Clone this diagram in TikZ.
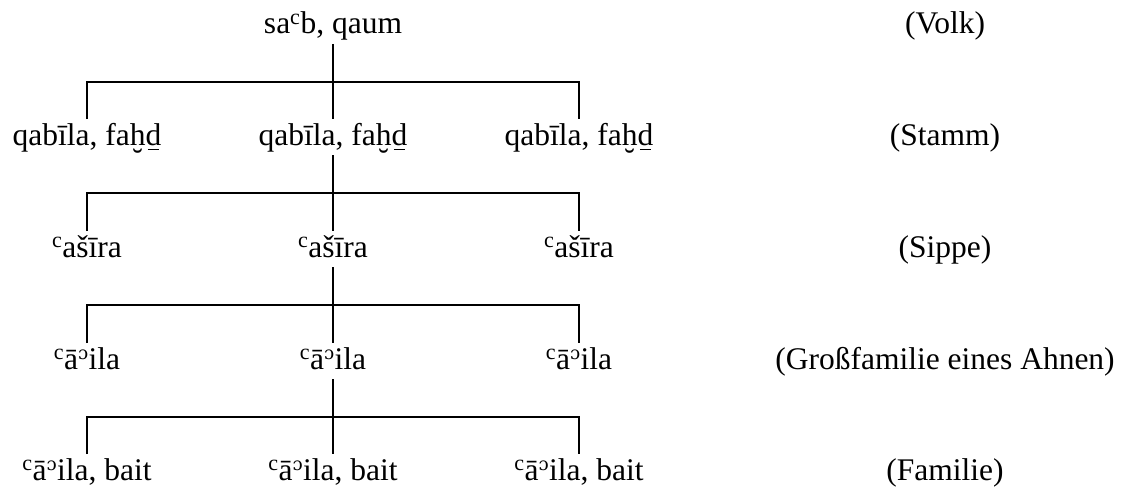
\documentclass[tikz,border=0pt]{standalone}
\usepackage{fontspec}
\setmainfont{Liberation Serif}
\newfontfamily\ipafont[Scale=0.82]{DejaVu Serif}
\newcommand\ay{\textsuperscript{c}}
\newcommand\hz{\textsuperscript{\ipafont ɔ}}
\newcommand\hbr{\leavevmode\ooalign{h\cr\hidewidth\raisebox{-0.8em}{˘}\hidewidth\cr}}
\newcommand\dmb{\leavevmode\ooalign{d\cr\hidewidth\rule[-0.17em]{0.36em}{0.045em}\hidewidth\cr}}
\begin{document}
\begin{tikzpicture}[x=1pt,y=-1pt,
  lbl/.style={anchor=base,inner sep=0pt,font=\fontsize{31.5}{37}\selectfont},
  conn/.style={line width=1.6pt,black}]
\useasboundingbox (0,0) rectangle (1124,495);
% rows
\node[lbl] (r1) at (333,34) {sa\ay b, qaum};
\node[lbl] (a1) at (87,145) {qabīla, fa\hbr\dmb};
\node[lbl] (a2) at (333,145) {qabīla, fa\hbr\dmb};
\node[lbl] (a3) at (579,145) {qabīla, fa\hbr\dmb};
\node[lbl] (b1) at (87,257) {\ay ašīra};
\node[lbl] (b2) at (333,257) {\ay ašīra};
\node[lbl] (b3) at (579,257) {\ay ašīra};
\node[lbl] (c1) at (87,369) {\ay ā\hz ila};
\node[lbl] (c2) at (333,369) {\ay ā\hz ila};
\node[lbl] (c3) at (579,369) {\ay ā\hz ila};
\node[lbl] (d1) at (87,480) {\ay ā\hz ila, bait};
\node[lbl] (d2) at (333,480) {\ay ā\hz ila, bait};
\node[lbl] (d3) at (579,480) {\ay ā\hz ila, bait};
% labels
\node[lbl] (v) at (945,34) {(Volk)};
\node[lbl] (s) at (945,145) {(Stamm)};
\node[lbl] (p) at (945,257) {(Sippe)};
\node[lbl] (g) at (945,369) {(Großfamilie eines Ahnen)};
\node[lbl] (f) at (945,480) {(Familie)};
% connectors
\foreach \P/\L/\M/\R in {r1/a1/a2/a3, a2/b1/b2/b3, b2/c1/c2/c3, c2/d1/d2/d3}{
  \coordinate (bar) at ([yshift=-48pt]\P.base);
  \draw[conn] ([yshift=-10pt]\P.base) -- ([yshift=26pt]\M.base);
  \draw[conn] ([yshift=26pt]\L.base) -- (\L.base |- bar) -- (\R.base |- bar) -- ([yshift=26pt]\R.base);
}
\end{tikzpicture}
\end{document}
